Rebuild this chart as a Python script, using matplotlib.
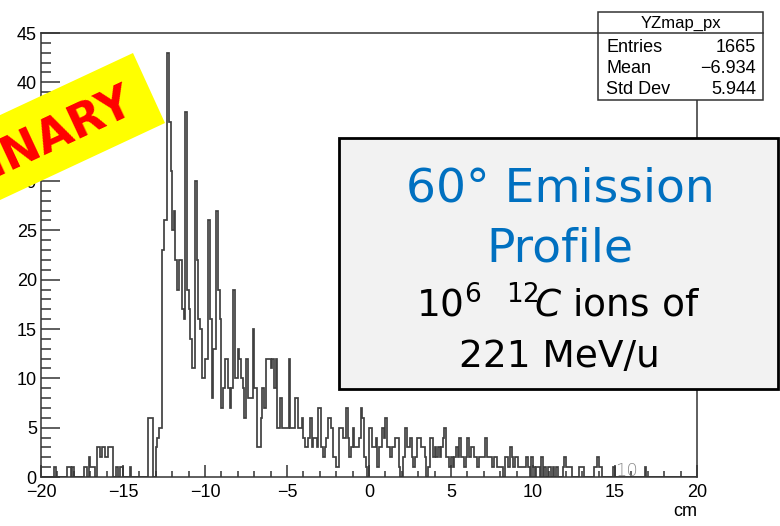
import numpy as np
import matplotlib
matplotlib.use('Agg')
import matplotlib.pyplot as plt
from matplotlib.patches import Rectangle, Polygon
from matplotlib.ticker import MultipleLocator

# ── YZmap_px projection: 400 bins of 0.1 cm between -20 and 20 cm ──
X_MIN, X_MAX, N_BINS = -20.0, 20.0, 400

counts = [
    0, 0, 0, 0, 0, 0, 0, 0, 1, 0,          # -20 .. -19
    0, 0, 0, 0, 0, 0, 1, 1, 0, 1,          # -19 .. -18
    0, 0, 0, 0, 0, 0, 1, 1, 0, 2,          # -18 .. -17
    1, 1, 1, 0, 3, 3, 2, 3, 3, 2,          # -17 .. -16
    2, 3, 3, 3, 0, 0, 1, 0, 1, 1,          # -16 .. -15
    0, 0, 0, 0, 1, 0, 0, 0, 0, 0,          # -15 .. -14
    0, 0, 0, 0, 0, 6, 6, 6, 0, 0,          # -14 .. -13
    3, 4, 5, 5, 23, 26, 26, 43, 36, 31,    # -13 .. -12
    25, 27, 22, 19, 22, 22, 17, 16, 37, 19,  # -12 .. -11
    17, 14, 11, 11, 30, 22, 16, 15, 10, 10,  # -11 .. -10
    12, 12, 26, 16, 8, 13, 13, 27, 19, 16,   # -10 .. -9
    7, 9, 12, 12, 9, 7, 9, 19, 10, 10,     # -9 .. -8
    13, 12, 10, 9, 6, 12, 8, 8, 8, 15,     # -8 .. -7
    9, 9, 3, 3, 6, 9, 7, 12, 12, 12,       # -7 .. -6
    11, 12, 9, 12, 5, 5, 8, 5, 5, 5,       # -6 .. -5
    5, 12, 5, 5, 5, 8, 8, 5, 5, 6,         # -5 .. -4
    4, 3, 3, 4, 6, 3, 4, 4, 3, 7,          # -4 .. -3
    7, 3, 2, 3, 4, 6, 6, 5, 2, 2,          # -3 .. -2
    1, 1, 5, 5, 4, 4, 7, 4, 2, 3,          # -2 .. -1
    5, 3, 3, 3, 4, 7, 6, 2, 1, 0,          # -1 .. 0
    5, 5, 3, 3, 4, 1, 3, 3, 5, 4,          # 0 .. 1
    6, 3, 3, 2, 3, 3, 4, 4, 1, 0,          # 1 .. 2
    0, 2, 5, 3, 3, 4, 2, 1, 2, 4,          # 2 .. 3
    4, 4, 3, 3, 2, 0, 1, 4, 4, 2,          # 3 .. 4
    3, 2, 3, 2, 3, 4, 5, 2, 2, 1,          # 4 .. 5
    2, 1, 2, 3, 2, 4, 2, 2, 1, 2,          # 5 .. 6
    4, 2, 3, 3, 2, 2, 1, 2, 2, 2,          # 6 .. 7
    2, 4, 2, 2, 2, 1, 2, 2, 1, 1,          # 7 .. 8
    1, 1, 0, 2, 2, 1, 3, 2, 1, 2,          # 8 .. 9
    2, 1, 1, 1, 1, 1, 2, 1, 0, 2,          # 9 .. 10
    1, 0, 1, 1, 0, 2, 0, 1, 0, 1,          # 10 .. 11
    1, 0, 1, 0, 1, 0, 0, 0, 1, 2,          # 11 .. 12
    1, 1, 1, 1, 0, 0, 0, 0, 1, 1,          # 12 .. 13
    1, 0, 0, 0, 0, 0, 0, 1, 1, 2,          # 13 .. 14
    1, 1, 0, 0, 0, 0, 0, 0, 0, 1,          # 14 .. 15
    0, 0, 0, 0, 0, 0, 0, 0, 0, 0,          # 15 .. 16
    0, 0, 0, 0, 0, 0, 0, 0, 1, 0,          # 16 .. 17
    0, 0, 0, 0, 0, 0, 0, 0, 0, 0,          # 17 .. 18
    0, 0, 0, 0, 0, 0, 0, 0, 0, 0,          # 18 .. 19
    0, 0, 0, 0, 0, 0, 0, 0, 0, 0,          # 19 .. 20
]

stat_names = ['Entries', 'Mean', 'Std Dev']
stat_values = ['1665', '\u22126.934', '5.944']
hist_name = 'YZmap_px'

title_lines = ['60° Emission', 'Profile']
beam_lines = [r'$\mathregular{10^{6}}$  $\mathregular{^{12}}\!C$ ions of', '221 MeV/u']

W, H = 780, 526
fig = plt.figure(figsize=(W / 100, H / 100), dpi=100)
fig.patch.set_facecolor('white')

# frame in pixel units: left 41, right 697, top 33, bottom 477
L, R, T, B = 41, 697, 33, 477
ax = fig.add_axes([L / W, 1 - B / H, (R - L) / W, (B - T) / H])

edges = np.linspace(X_MIN, X_MAX, N_BINS + 1)
ax.stairs(counts, edges, baseline=0, color='#404040', lw=1.25)

ax.set_xlim(X_MIN, X_MAX)
ax.set_ylim(0, 45)
ax.xaxis.set_major_locator(MultipleLocator(5))
ax.xaxis.set_minor_locator(MultipleLocator(1))
ax.yaxis.set_major_locator(MultipleLocator(5))
ax.yaxis.set_minor_locator(MultipleLocator(1))

lab_font = {'family': 'Liberation Sans', 'size': 13}
ax.tick_params(which='both', direction='in', top=False, right=False,
               color='#333333', width=1.1)
ax.tick_params(axis='x', which='major', length=8.6, pad=5)
ax.tick_params(axis='x', which='minor', length=4.3)
ax.tick_params(axis='y', which='major', length=13.7, pad=3)
ax.tick_params(axis='y', which='minor', length=7)
for lab in ax.get_xticklabels() + ax.get_yticklabels():
    lab.set_fontfamily(lab_font['family'])
    lab.set_fontsize(lab_font['size'])
for sp in ax.spines.values():
    sp.set_color('#333333')
    sp.set_linewidth(1.1)

fig.text(R / W, 1 - 511 / H, 'cm', ha='right', va='center',
         fontfamily='Liberation Sans', fontsize=13)

# ── overlay in pixel coordinates (y down) ──
ov = fig.add_axes([0, 0, 1, 1], zorder=10)
ov.set_xlim(0, W)
ov.set_ylim(H, 0)
ov.axis('off')
ov.patch.set_alpha(0)

# stat box
ov.add_patch(Rectangle((598, 12), 165, 88, fc='white', ec='#333333', lw=1.1))
ov.plot([598, 763], [33, 33], color='#333333', lw=1.1)
ov.text(680.5, 23, hist_name, ha='center', va='center',
        fontfamily='Liberation Sans', fontsize=12)
for i, (name, val) in enumerate(zip(stat_names, stat_values)):
    y = 47 + i * 21.5
    ov.text(606, y, name, ha='left', va='center',
            fontfamily='Liberation Sans', fontsize=13)
    ov.text(756, y, val, ha='right', va='center',
            fontfamily='Liberation Sans', fontsize=13)

# faint bin label near x = 15.5
ov.text(626, 476, '10', ha='center', va='baseline', color='#8c8c8c',
        fontfamily='DejaVu Sans', fontsize=13, fontweight='light')

# annotation panel
ov.add_patch(Rectangle((339, 138), 439, 251, fc='#f2f2f2', ec='black', lw=2))
ov.text(560, 201, title_lines[0], ha='center', va='baseline',
        color='#0070c0', fontsize=34)
ov.text(560, 261, title_lines[1], ha='center', va='baseline',
        color='#0070c0', fontsize=34)
ov.text(558, 317, beam_lines[0], ha='center', va='baseline',
        color='black', fontsize=27)
ov.text(559, 367, beam_lines[1], ha='center', va='baseline',
        color='black', fontsize=27)

# PRELIMINARY banner across the top-left corner
banner = [(133, 53), (165, 123), (-107, 250), (-139, 180)]
ov.add_patch(Polygon(banner, closed=True, fc='#ffff00', ec='none'))
ov.text(131, 99, 'PRELIMINARY', rotation=25, rotation_mode='anchor',
        ha='right', va='center', color='#ff0000', fontsize=33,
        fontweight='bold')

fig.savefig('out.png', dpi=100)
